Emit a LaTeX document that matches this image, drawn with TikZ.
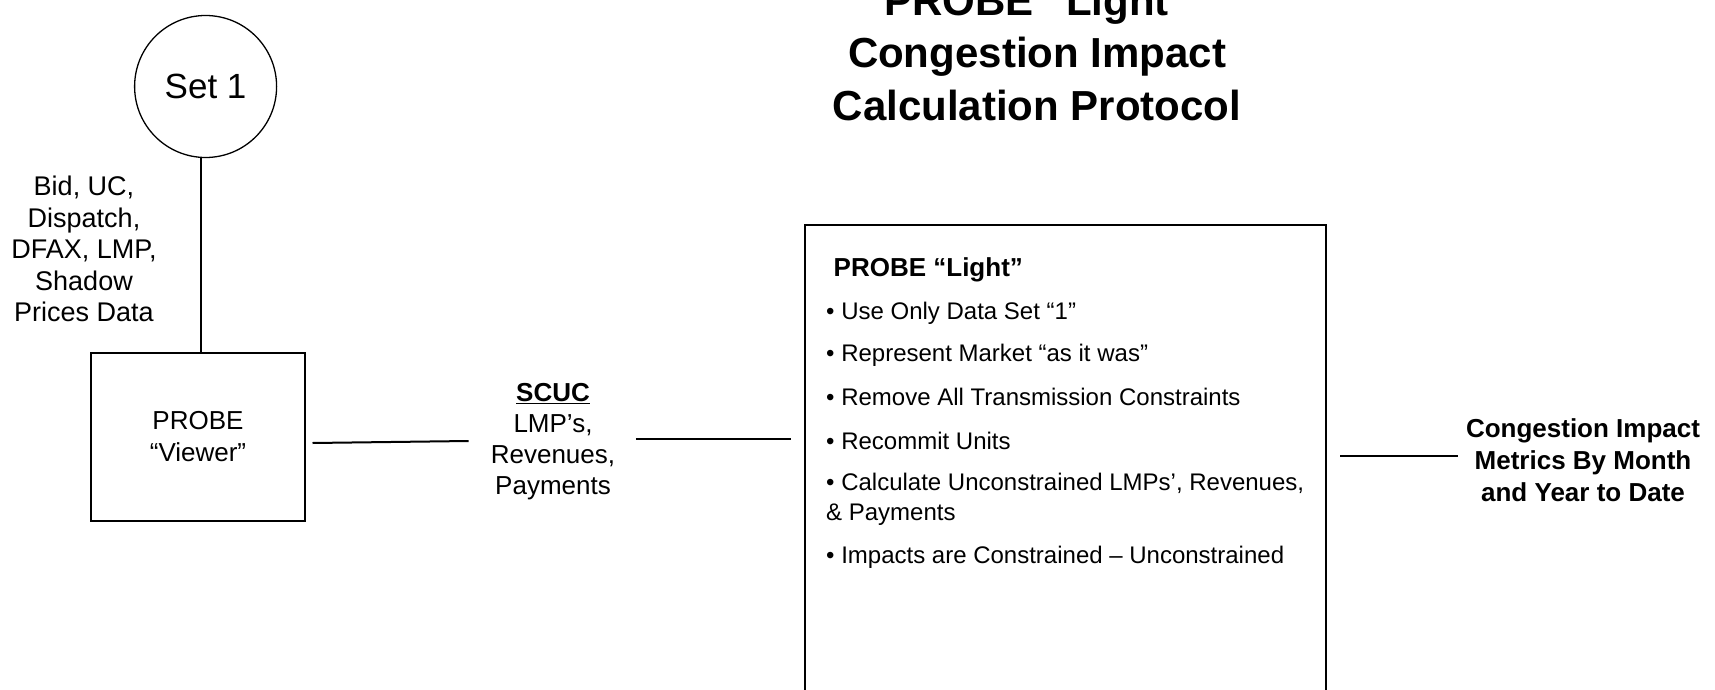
\documentclass[tikz,border=0pt]{standalone}
\usepackage{fontspec}
\setmainfont{Liberation Sans}
\usetikzlibrary{calc}
\begin{document}
\begin{tikzpicture}[x=1pt,y=-1pt,
  conn/.style={line width=2pt},
  boxstyle/.style={draw, line width=2pt, inner sep=0pt},
  lbl/.style={align=center, inner sep=0pt, font=\fontsize{26}{31}\selectfont},
  boldlbl/.style={align=center, inner sep=0pt, font=\bfseries\fontsize{26}{32}\selectfont},
  bullet/.style={anchor=base west, inner sep=0pt, align=left, font=\fontsize{24}{30}\selectfont}]
\useasboundingbox (0,0) rectangle (1715,690);

% title (base anchor = baseline of the last line)
\node[anchor=base, align=center, inner sep=0pt, font=\bfseries\fontsize{42}{52.5}\selectfont] (title) at (1037,120.5)
  {PROBE “Light”\\Congestion Impact\\Calculation Protocol};

% data set circle
\node[circle, draw, line width=1.3pt, minimum size=142pt, inner sep=0pt, font=\fontsize{35}{40}\selectfont] (set1) at (205.6,86.5) {Set 1};

% viewer box
\node[boxstyle, line width=1.6pt, minimum width=214.4pt, minimum height=167.7pt, align=center, font=\fontsize{26}{32}\selectfont] (viewer) at (198,437) {PROBE\\“Viewer”};

\node[lbl, font=\fontsize{27}{31.4}\selectfont] (data) at (84,249) {Bid, UC,\\Dispatch,\\DFAX, LMP,\\Shadow\\Prices Data};

\draw[conn] ($(set1.south)+(-4.6,0)$) -- ($(viewer.north)+(3,0)$);

% SCUC label
\node[lbl] (scuc) at (553,441.5) {\underline{\textbf{SCUC}}\\LMP’s,\\Revenues,\\Payments};

\draw[conn] ($(viewer.east)+(6.5,6)$) -- ($(scuc.west)+(-22,-0.5)$);

% PROBE Light box
\node[boxstyle, minimum width=520.6pt, minimum height=505pt] (light) at (1065.3,477.5) {};
\node[anchor=base west, inner sep=0pt, font=\bfseries\fontsize{26}{31}\selectfont] (lighthead) at (833.5,276.4) {PROBE “Light”};
\node[bullet] (b1) at (826,319) {• Use Only Data Set “1”};
\node[bullet] (b2) at (826,361.6) {• Represent Market “as it was”};
\node[bullet] (b3) at (826,405.6) {• Remove All Transmission Constraints};
\node[bullet] (b4) at (826,449.6) {• Recommit Units};
\node[bullet] (b5) at (826,520.6) {• Calculate Unconstrained LMPs’, Revenues,\\\& Payments};
\node[bullet] (b6) at (826,563) {• Impacts are Constrained – Unconstrained};

\draw[conn] ($(scuc.east)+(20.6,-2.9)$) -- ($(light.west)+(-13,-38.9)$);

% result label
\node[boldlbl] (result) at (1583,460) {Congestion Impact\\Metrics By Month\\and Year to Date};

\draw[conn] ($(light.east)+(13.4,-21.5)$) -- ($(result.west)+(-8,-4)$);
\end{tikzpicture}
\end{document}
